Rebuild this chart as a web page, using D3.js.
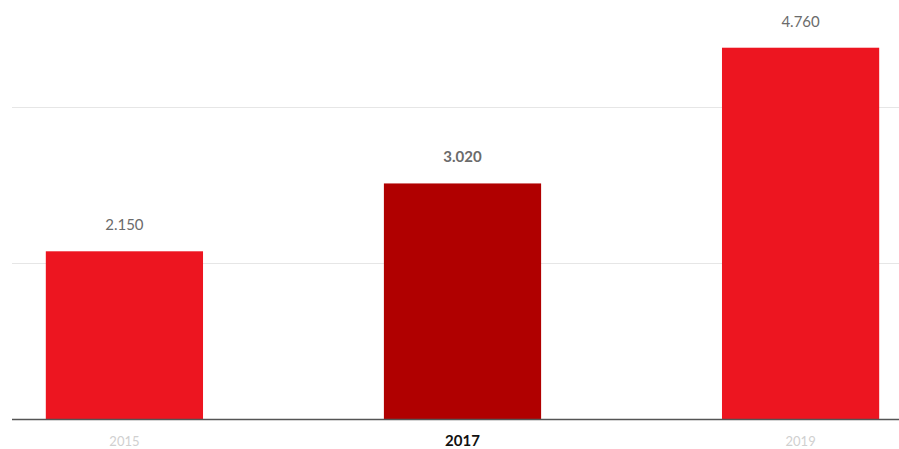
<!DOCTYPE html>
<html><head><meta charset="utf-8">
<script src="https://cdn.jsdelivr.net/npm/d3@7"></script>
<style>body{margin:0;background:#fff;}svg{display:block;}</style>
</head><body>
<svg id="c" width="899" height="449"></svg>
<script>
const categories = ["2015", "2017", "2019"];
const values = [2150, 3020, 4760];
const valueLabels = ["2.150", "3.020", "4.760"];
const highlighted = ["2017"];
const gridTicks = [2000, 4000];

const svg = d3.select("#c");
const W = 899, H = 449;
const y0 = 419;
const x = d3.scaleBand().domain(categories).range([12, 913]).paddingInner(0.535).paddingOuter(0.1);
const y = d3.scaleLinear().domain([0, 5000]).range([y0, 29]);

svg.append("g").selectAll("line").data(gridTicks).join("line")
  .attr("x1", 12).attr("x2", W).attr("y1", d => Math.round(y(d)) + 0.5).attr("y2", d => Math.round(y(d)) + 0.5)
  .attr("stroke", "#e6e6e6").attr("stroke-width", 1);

svg.append("g").selectAll("rect").data(categories).join("rect")
  .attr("x", d => x(d)).attr("width", x.bandwidth())
  .attr("y", (d, i) => y(values[i])).attr("height", (d, i) => y0 - y(values[i]))
  .attr("fill", d => highlighted.includes(d) ? "#b00000" : "#ed1520");

svg.append("g").selectAll("text").data(categories).join("text")
  .attr("x", d => x(d) + x.bandwidth() / 2)
  .attr("y", (d, i) => y(values[i]) - 21)
  .attr("text-anchor", "middle")
  .attr("font-family", "Lato, sans-serif")
  .attr("font-size", 15)
  .attr("font-weight", d => highlighted.includes(d) ? "bold" : "normal")
  .attr("fill", "#6b6b6b")
  .text((d, i) => valueLabels[i]);

svg.append("line").attr("x1", 12).attr("x2", W).attr("y1", y0 + 0.5).attr("y2", y0 + 0.5)
  .attr("stroke", "#555").attr("stroke-width", 1.5);

const xAxis = d3.axisBottom(x).tickSize(0).tickPadding(0);
const ax = svg.append("g").attr("transform", `translate(0,${y0})`).call(xAxis);
ax.select(".domain").remove();
ax.selectAll("text")
  .attr("y", 27)
  .attr("dy", 0)
  .attr("font-family", "Lato, sans-serif")
  .attr("font-size", d => highlighted.includes(d) ? 15 : 13)
  .attr("font-weight", d => highlighted.includes(d) ? "bold" : "normal")
  .attr("fill", d => highlighted.includes(d) ? "#111" : "#d0d0d0");
</script>
</body></html>
